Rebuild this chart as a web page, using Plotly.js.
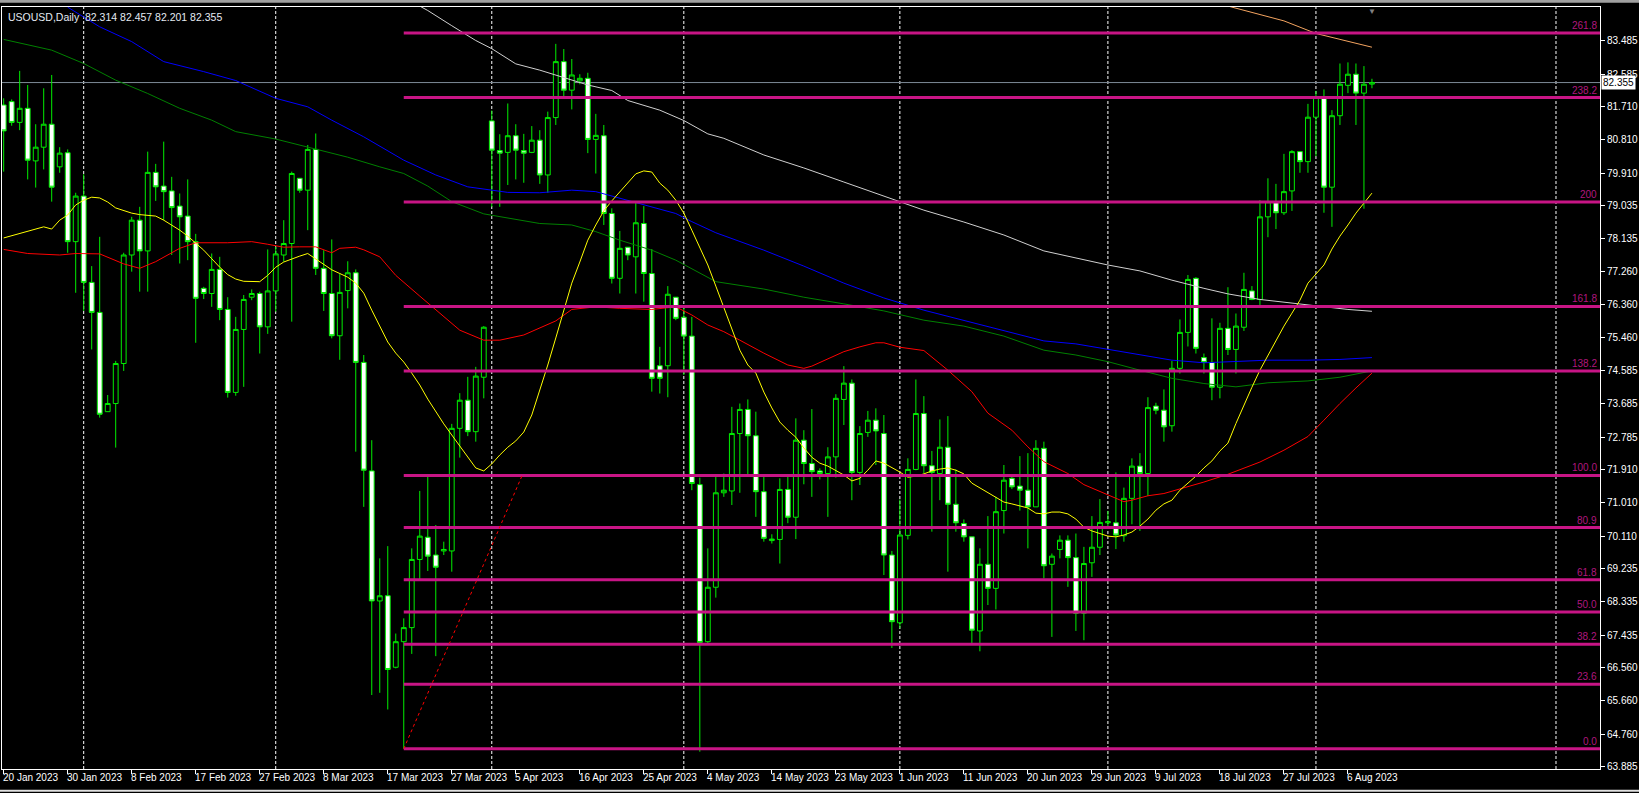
<!DOCTYPE html>
<html><head><meta charset="utf-8">
<script src="https://cdn.plot.ly/plotly-3.0.1.min.js"></script>
<style>html,body{margin:0;padding:0;background:#000;overflow:hidden}#chart{width:1639px;height:793px}</style>
</head><body><div id="chart"></div>
<script>
// ---------------- data ----------------
const symbolTitle = 'USOUSD,Daily';
const lastOHLC = ['82.314', '82.457', '82.201', '82.355'];
const lastPrice = 82.355;
const firstDate = '2023-01-20';
const closedDays = ['2023-04-07'];
const monthNames = ['Jan','Feb','Mar','Apr','May','Jun','Jul','Aug','Sep','Oct','Nov','Dec'];

const open = [81.75,81.84,81.28,81.66,80.24,80.61,81.23,80.08,80.46,78.06,79.29,76.96,76.15,73.47,73.69,74.77,77.70,78.64,77.81,79.93,
79.56,79.43,79.02,78.75,78.06,76.80,76.66,77.31,76.23,73.99,75.69,76.56,76.66,75.76,76.73,77.70,78.01,79.77,79.45,80.55,
77.34,76.66,75.52,76.74,77.22,74.80,71.87,68.36,68.50,66.57,67.26,67.64,69.48,70.08,69.60,69.71,69.71,73.02,73.78,72.93,
74.40,81.32,80.52,80.47,80.92,80.52,80.47,80.80,79.86,81.41,82.92,82.15,82.40,82.47,80.82,80.92,78.82,77.07,77.91,77.65,
78.55,77.20,74.71,74.71,76.56,76.02,75.51,71.50,67.26,68.73,71.28,71.33,72.88,73.53,72.82,71.31,69.99,70.02,71.37,70.62,
72.70,72.07,71.87,71.80,72.25,73.80,74.24,71.83,72.91,73.24,72.88,69.60,67.77,70.13,71.91,73.42,72.01,71.80,72.51,70.97,
70.45,70.09,67.55,69.35,68.70,70.80,71.67,71.46,71.35,70.90,72.48,69.35,69.75,70.00,69.53,68.03,69.39,69.81,70.47,70.47,
70.12,71.13,72.00,71.80,73.62,73.51,73.09,74.64,75.61,77.07,74.93,74.80,74.13,75.72,75.15,75.75,76.73,76.50,78.73,79.14,
78.84,79.43,80.49,80.22,81.42,81.97,79.53,81.46,82.28,82.58,82.07,82.314];
const high = [81.93,81.90,82.67,82.29,81.23,82.20,82.56,80.61,80.55,79.38,79.88,77.40,78.19,73.92,74.84,77.76,78.73,79.00,80.49,80.16,
80.76,79.81,79.36,79.74,78.27,76.84,77.74,77.65,76.56,76.03,76.62,76.77,76.71,77.85,77.92,78.64,79.95,79.77,80.67,80.98,
77.83,78.12,77.20,77.53,77.31,75.00,72.70,69.51,69.84,67.48,67.89,69.78,71.33,71.71,70.41,69.96,73.14,73.97,74.41,74.68,
75.78,81.60,80.96,81.79,81.23,80.97,81.18,81.07,81.57,83.40,83.26,82.99,82.58,82.62,81.51,81.21,78.96,78.35,77.91,79.12,
79.02,77.86,75.22,76.86,76.56,76.30,76.03,71.69,69.78,71.76,71.80,73.60,73.69,73.80,73.47,71.76,70.16,71.67,71.76,73.29,
72.97,73.54,71.94,72.51,73.94,74.70,74.34,73.08,73.49,73.56,73.38,69.71,71.10,72.21,74.34,73.89,72.41,73.26,73.35,71.91,
70.56,70.09,69.78,70.65,71.17,72.03,71.73,72.27,72.35,72.70,72.66,69.64,70.13,70.13,70.18,69.82,70.65,71.11,70.79,71.83,
71.42,72.21,72.35,73.86,73.71,74.07,74.84,75.96,77.16,77.10,75.04,75.99,75.87,76.83,76.12,77.22,76.86,79.18,79.77,79.62,
80.43,80.53,80.49,81.78,82.13,82.17,81.61,82.87,82.90,82.87,82.80,82.457];
const low = [79.95,81.19,81.07,79.74,79.52,80.01,79.14,79.92,77.76,76.68,76.19,75.15,73.31,73.47,72.50,74.57,77.25,76.71,76.71,79.16,
78.64,77.70,77.47,77.56,75.33,76.51,76.30,75.94,73.85,73.90,74.14,76.48,75.04,75.57,76.17,77.52,75.90,79.38,78.37,77.16,
76.19,75.45,74.87,76.26,72.39,70.90,65.82,65.88,65.43,66.54,64.37,66.93,68.90,69.17,66.87,69.60,69.15,72.23,72.81,72.66,
73.83,79.00,79.00,79.59,79.74,79.65,80.45,79.62,79.38,81.21,81.97,81.63,82.31,80.45,79.90,78.51,76.93,76.66,77.56,76.66,
76.44,74.01,73.96,73.86,75.94,74.46,71.35,64.29,67.20,68.45,71.17,70.95,71.28,71.76,70.63,69.96,69.91,69.37,70.46,70.03,
71.51,71.17,71.64,70.63,71.69,73.11,71.08,71.49,72.79,72.03,69.06,67.09,67.62,70.02,71.89,71.80,70.23,71.08,69.15,70.23,
69.96,67.22,67.00,68.25,68.13,70.18,71.38,70.80,69.78,70.90,68.97,67.39,69.51,68.74,67.55,67.30,69.01,69.60,70.36,69.76,
69.96,70.43,70.25,71.19,73.40,72.66,72.93,74.50,75.23,75.04,74.50,73.78,73.83,75.00,74.50,75.65,76.48,76.35,78.18,78.40,
78.78,78.89,79.92,79.92,80.37,78.84,78.46,81.21,82.07,81.21,78.95,82.201];
const close = [81.05,81.28,81.66,80.26,80.61,81.23,79.53,80.45,78.06,79.29,76.96,76.15,73.40,73.69,74.77,77.70,78.64,77.81,79.93,79.54,
79.41,78.98,78.73,78.06,76.53,76.66,77.31,76.23,73.99,75.69,76.50,76.66,75.76,76.73,77.73,78.01,79.90,79.45,80.55,77.34,
76.66,75.52,76.69,77.22,74.80,71.89,68.36,68.50,66.51,67.26,67.64,69.48,70.11,69.57,69.27,69.75,73.02,73.78,72.93,74.43,
75.75,80.53,80.45,80.92,80.53,80.45,80.80,79.86,81.41,82.92,82.15,82.56,82.47,80.82,80.93,78.82,77.07,77.88,77.70,78.57,
77.20,74.37,74.37,76.64,75.99,75.51,71.53,67.24,68.73,71.28,71.35,72.88,73.53,72.82,71.31,70.05,70.03,71.37,70.62,72.70,
72.07,71.85,71.80,72.25,73.83,74.24,71.83,72.88,73.24,72.95,69.60,67.80,70.14,71.91,73.42,72.01,71.83,72.51,70.97,70.47,
70.09,67.57,69.35,68.70,70.77,71.62,71.44,71.35,70.90,72.48,69.31,69.57,70.00,69.53,68.03,69.37,69.81,70.48,70.50,70.14,
71.13,72.00,71.80,73.58,73.51,73.06,74.64,75.61,77.04,75.18,74.80,74.13,75.72,75.15,75.78,76.77,76.50,78.73,79.14,78.84,
79.41,80.49,80.22,81.42,81.97,79.53,81.46,82.31,82.58,82.07,82.31,82.355];

// moving averages (value on every bar for the fast one)
const maYellow = [78.16,78.22,78.28,78.34,78.42,78.46,78.40,78.64,78.78,79.05,79.18,79.26,79.24,79.13,78.97,78.90,78.83,78.79,78.77,78.75,
78.64,78.51,78.37,78.21,78.02,77.83,77.60,77.37,77.17,77.05,76.99,76.98,76.98,77.15,77.37,77.51,77.60,77.67,77.74,77.59,
77.46,77.30,77.20,77.10,76.94,76.67,76.21,75.78,75.35,75.05,74.81,74.51,74.19,73.81,73.46,73.14,72.84,72.54,72.22,71.95,
71.87,72.06,72.30,72.51,72.68,72.92,73.38,74.05,74.73,75.46,76.21,76.94,77.51,78.10,78.51,78.89,79.16,79.40,79.67,79.89,
79.97,79.94,79.64,79.45,79.18,78.83,78.37,77.91,77.43,76.86,76.27,75.67,75.13,74.73,74.51,74.00,73.57,73.19,72.97,72.78,
72.49,72.24,72.08,72.00,71.87,71.76,71.60,71.67,71.89,72.14,72.08,71.97,71.84,71.70,71.73,71.79,71.87,71.92,71.95,71.89,
71.79,71.54,71.41,71.30,71.17,71.03,70.98,70.92,70.87,70.73,70.71,70.76,70.76,70.71,70.57,70.35,70.25,70.18,70.11,70.09,
70.14,70.22,70.38,70.57,70.81,70.98,71.08,71.35,71.54,71.73,71.95,72.14,72.41,72.62,73.15,73.66,74.13,74.59,75.00,75.38,
75.78,76.13,76.48,76.94,77.19,77.43,77.86,78.21,78.51,78.83,79.10,79.37];

const maRedBars = [0,3,7,9,12,13,15,17,19,22,24,28,31,33,35,37,39,41,42,44,45,47,49,52,55,57,60,62,65,67,69,71,74,77,81,84,86,88,90,92,95,98,100,101,105,107,109,110,112,115,116,118,121,123,126,128,130,133,135,137,140,141,143,145,147,150,153,157,160,163,165,167,169,171];
const maRedVals = [77.85,77.74,77.70,77.74,77.73,77.64,77.46,77.34,77.52,77.88,78.03,78.03,78.06,77.99,77.91,77.92,77.92,77.76,77.88,77.91,77.84,77.65,77.15,76.59,76.03,75.67,75.40,75.40,75.54,75.72,75.92,76.23,76.30,76.26,76.23,76.30,76.08,75.81,75.63,75.40,75.05,74.73,74.64,74.70,75.09,75.22,75.33,75.33,75.21,75.12,74.94,74.59,74.01,73.43,72.97,72.52,72.12,71.80,71.50,71.31,71.04,71.08,71.20,71.26,71.38,71.57,71.78,72.11,72.43,72.80,73.24,73.69,74.11,74.51];

const maGreenBars = [0,6,10,14,18,22,26,29,34,37,41,43,47,50,53,56,60,63,67,71,74,77,81,84,87,89,95,100,105,110,115,120,125,130,134,138,142,146,150,154,158,163,167,171];
const maGreenVals = [83.52,83.23,82.87,82.42,82.06,81.66,81.34,81.03,80.83,80.67,80.45,80.34,80.08,79.90,79.56,79.14,78.81,78.69,78.55,78.51,78.33,78.10,77.83,77.56,77.20,76.98,76.78,76.56,76.38,76.19,75.94,75.78,75.51,75.13,75.00,74.82,74.59,74.37,74.23,74.14,74.25,74.30,74.40,74.57];

const maBlueBars = [8,12,16,20,25,29,34,38,41,45,50,54,58,63,67,71,74,77,81,84,86,89,95,100,105,110,115,120,125,130,134,138,142,146,150,154,158,163,167,171];
const maBlueVals = [84.39,83.86,83.46,82.92,82.65,82.41,81.93,81.70,81.34,80.89,80.26,79.86,79.54,79.39,79.38,79.45,79.41,79.23,79.00,78.82,78.60,78.30,77.83,77.40,76.94,76.54,76.21,75.94,75.65,75.38,75.30,75.15,75.00,74.86,74.79,74.82,74.86,74.86,74.88,74.93];

const maWhiteBars = [52,53,56,59,61,64,67,70,73,76,78,82,85,88,90,95,100,105,110,115,120,125,130,134,138,142,146,150,153,157,161,164,168,171];
const maWhiteVals = [84.42,84.30,83.89,83.49,83.27,82.86,82.69,82.50,82.29,82.14,81.87,81.61,81.33,80.97,80.85,80.40,80.05,79.67,79.29,78.91,78.59,78.24,77.81,77.61,77.43,77.27,77.02,76.80,76.65,76.50,76.40,76.32,76.23,76.18];

const maOrangeBars = [153,160,164,168,171];
const maOrangeVals = [84.42,84.02,83.68,83.48,83.31];

// fibonacci retracement / expansion
const fibLow = 64.37, fibHigh = 71.75;
const fibStartBar = 50, fibEndBar = 64.8;
const fibLevels = [0, 23.6, 38.2, 50, 61.8, 80.9, 100, 138.2, 161.8, 200, 238.2, 261.8];
const fibLabels = ['0.0','23.6','38.2','50.0','61.8','80.9','100.0','138.2','161.8','200','238.2','261.8'];

// price scale labels
const yTickVals = [83.485,82.585,81.710,80.810,79.910,79.035,78.135,77.260,76.360,75.460,74.585,73.685,72.785,71.910,71.010,70.110,69.235,68.335,67.435,66.560,65.660,64.760,63.885];
const yTickText = yTickVals.map(v => v.toFixed(3));
const monthStartBars = [10, 34, 61, 85, 112, 138, 164, 194];

// ---------------- build ----------------
function buildDates(start, n, closed) {
  const out = [];
  const d = new Date(start + 'T00:00:00Z');
  while (out.length < n) {
    const iso = d.toISOString().slice(0, 10);
    if (d.getUTCDay() !== 6 && !closed.includes(iso)) out.push(iso);
    d.setUTCDate(d.getUTCDate() + 1);
  }
  return out;
}
const dates = buildDates(firstDate, open.length, closedDays);
const fmt = iso => { const p = iso.split('-'); return (+p[2]) + ' ' + monthNames[+p[1] - 1] + ' ' + p[0]; };
const bars = dates.map((_, i) => i);
const xTickVals = bars.filter(i => i % 8 === 0);
const xTickText = xTickVals.map(i => fmt(dates[i]));

const FONT = 'Liberation Sans, Arial, sans-serif';
const GREEN = '#00ee00';

const traces = [
  {
    type: 'candlestick', x: bars, open: open, high: high, low: low, close: close,
    increasing: { line: { color: GREEN, width: 1 }, fillcolor: '#000000' },
    decreasing: { line: { color: GREEN, width: 1 }, fillcolor: '#ffffff' },
    whiskerwidth: 0, hoverinfo: 'skip', showlegend: false
  },
  { type: 'scatter', mode: 'lines', x: maWhiteBars, y: maWhiteVals, line: { color: '#d0d0d0', width: 1 }, hoverinfo: 'skip', showlegend: false },
  { type: 'scatter', mode: 'lines', x: maOrangeBars, y: maOrangeVals, line: { color: '#f4a460', width: 1 }, hoverinfo: 'skip', showlegend: false },
  { type: 'scatter', mode: 'lines', x: maBlueBars, y: maBlueVals, line: { color: '#0000ff', width: 1 }, hoverinfo: 'skip', showlegend: false },
  { type: 'scatter', mode: 'lines', x: maGreenBars, y: maGreenVals, line: { color: '#008000', width: 1 }, hoverinfo: 'skip', showlegend: false },
  { type: 'scatter', mode: 'lines', x: maRedBars, y: maRedVals, line: { color: '#ff0000', width: 1 }, hoverinfo: 'skip', showlegend: false },
  { type: 'scatter', mode: 'lines', x: bars, y: maYellow, line: { color: '#ffff00', width: 1 }, hoverinfo: 'skip', showlegend: false }
];

const shapes = [];
monthStartBars.forEach(b => shapes.push({
  type: 'line', xref: 'x', yref: 'paper', x0: b, x1: b, y0: 0, y1: 1, layer: 'below',
  line: { color: '#ffffff', width: 1, dash: '3px,2px' }
}));
shapes.push({ type: 'line', xref: 'paper', yref: 'y', x0: 0, x1: 1, y0: lastPrice, y1: lastPrice, layer: 'below',
  line: { color: '#7d8a97', width: 1 } });
const fibPrice = l => fibLow + (fibHigh - fibLow) * l / 100;
fibLevels.forEach(l => shapes.push({
  type: 'line', xref: 'x', yref: 'y', x0: fibStartBar, x1: 199.5, y0: fibPrice(l), y1: fibPrice(l), layer: 'above',
  line: { color: '#c71585', width: 3 }
}));
shapes.push({ type: 'line', xref: 'x', yref: 'y', x0: fibStartBar, y0: fibLow, x1: fibEndBar, y1: fibHigh, layer: 'above',
  line: { color: '#ff0000', width: 1, dash: 'dot' } });
// window frame bits
shapes.push({ type: 'rect', xref: 'paper', yref: 'paper', x0: -0.01, x1: 1.05, y0: 1.0055, y1: 1.012, layer: 'below', line: { width: 0 }, fillcolor: '#a0a0a0' });
shapes.push({ type: 'line', xref: 'paper', yref: 'paper', x0: -0.01, x1: 1.05, y0: -0.0285, y1: -0.0285, layer: 'below', line: { color: '#e0e0e0', width: 2 } });

const annotations = [];
annotations.push({
  xref: 'paper', yref: 'paper', x: 0, y: 1, xanchor: 'left', yanchor: 'top', xshift: 4, yshift: -2,
  text: symbolTitle + '\u00a0\u00a0' + lastOHLC.join(' '), showarrow: false,
  font: { family: FONT, size: 10.5, color: '#e4eaf2' }
});
fibLevels.forEach((l, i) => annotations.push({
  xref: 'paper', yref: 'y', x: 1, y: fibPrice(l), xanchor: 'right', yanchor: 'bottom', xshift: -1, yshift: 0,
  text: fibLabels[i], showarrow: false, font: { family: FONT, size: 10, color: '#b0177e' }
}));
annotations.push({
  xref: 'paper', yref: 'y', x: 1, y: lastPrice, xanchor: 'left', yanchor: 'middle', xshift: 1,
  text: lastPrice.toFixed(3), showarrow: false, bgcolor: '#ffffff', borderpad: 1,
  font: { family: FONT, size: 10, color: '#000000' }
});
annotations.push({
  xref: 'x', yref: 'paper', x: 171, y: 1, xanchor: 'center', yanchor: 'top', yshift: 2,
  text: '\u25BC', showarrow: false, font: { family: FONT, size: 8, color: '#808080' }
});
// date labels of the time scale, left-aligned on their tick like the terminal does
xTickVals.forEach((b, i) => annotations.push({
  xref: 'x', yref: 'paper', x: b, y: 0, xanchor: 'left', yanchor: 'top', xshift: -2, yshift: -2,
  text: xTickText[i], showarrow: false, borderpad: 0,
  font: { family: FONT, size: 10, color: '#ffffff' }
}));

const layout = {
  width: 1639, height: 793,
  margin: { l: 2, r: 39, t: 7, b: 24, pad: 0 },
  paper_bgcolor: '#000000', plot_bgcolor: '#000000',
  showlegend: false, hovermode: false,
  boxgap: 0.2, boxgroupgap: 0.25,
  xaxis: {
    type: 'linear', range: [-0.21, 199.5], rangeslider: { visible: false },
    showgrid: false, zeroline: false, showline: true, linecolor: '#ffffff', linewidth: 1, mirror: true,
    ticks: 'outside', ticklen: 4, tickcolor: '#ffffff', tickwidth: 1,
    tickvals: xTickVals, showticklabels: false, fixedrange: true
  },
  yaxis: {
    side: 'right', range: [63.823, 84.395],
    showgrid: false, zeroline: false, showline: true, linecolor: '#ffffff', linewidth: 1, mirror: true,
    ticks: 'outside', ticklen: 4, tickcolor: '#ffffff', tickwidth: 1,
    tickvals: yTickVals, ticktext: yTickText,
    tickfont: { family: FONT, size: 10, color: '#ffffff' }, fixedrange: true
  },
  shapes: shapes, annotations: annotations
};

Plotly.newPlot('chart', traces, layout, { staticPlot: true, displayModeBar: false });
</script>
</body></html>
